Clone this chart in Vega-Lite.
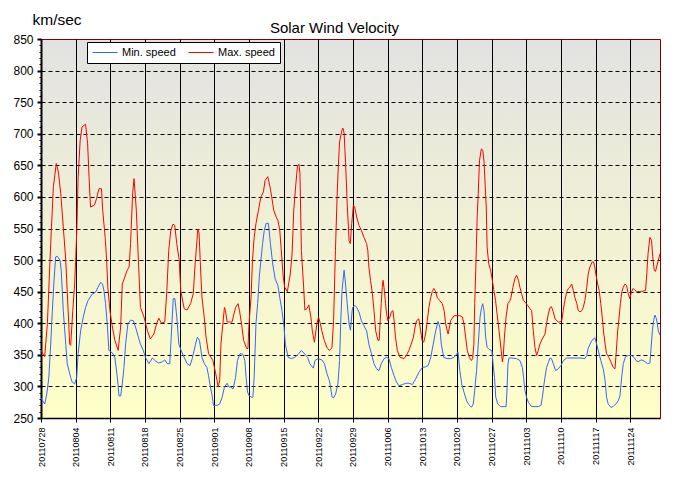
{
"$schema": "https://vega.github.io/schema/vega-lite/v6.json",
"width": 619,
"height": 379,
"autosize": {"type": "none"},
"padding": {"left": 41, "top": 39, "right": 22, "bottom": 71},
"background": "white",
"title": {"text": "Solar Wind Velocity", "anchor": "middle", "dx": -16, "offset": 0, "dy": 24, "font": "Liberation Sans", "fontSize": 15, "fontWeight": "normal", "color": "#000000"},
"datasets": {
"min": [
{"t":"2011-07-28T00:00","v":282},{"t":"2011-07-28T08:00","v":277},{"t":"2011-07-28T18:00","v":272},{"t":"2011-07-29T04:00","v":288},{"t":"2011-07-29T14:00","v":314},{"t":"2011-07-29T23:00","v":367},{"t":"2011-07-30T07:00","v":420},{"t":"2011-07-30T14:00","v":462},{"t":"2011-07-30T23:00","v":505},{"t":"2011-07-31T07:00","v":506},{"t":"2011-07-31T20:00","v":500},{"t":"2011-08-01T02:00","v":484},{"t":"2011-08-01T12:00","v":420},{"t":"2011-08-02T00:00","v":367},{"t":"2011-08-02T07:00","v":336},{"t":"2011-08-03T00:00","v":314},{"t":"2011-08-03T07:00","v":307},{"t":"2011-08-03T19:00","v":304},{"t":"2011-08-04T05:00","v":314},{"t":"2011-08-04T12:00","v":352},{"t":"2011-08-05T00:00","v":388},{"t":"2011-08-05T13:00","v":410},{"t":"2011-08-06T00:00","v":425},{"t":"2011-08-06T12:00","v":436},{"t":"2011-08-07T08:00","v":446},{"t":"2011-08-08T00:00","v":449},{"t":"2011-08-08T12:00","v":457},{"t":"2011-08-09T01:00","v":465},{"t":"2011-08-09T10:00","v":462},{"t":"2011-08-09T17:00","v":452},{"t":"2011-08-10T01:00","v":431},{"t":"2011-08-10T10:00","v":394},{"t":"2011-08-10T17:00","v":357},{"t":"2011-08-11T10:00","v":353},{"t":"2011-08-11T22:00","v":346},{"t":"2011-08-12T10:00","v":314},{"t":"2011-08-12T18:00","v":285},{"t":"2011-08-13T02:00","v":285},{"t":"2011-08-13T10:00","v":304},{"t":"2011-08-13T18:00","v":330},{"t":"2011-08-14T02:00","v":367},{"t":"2011-08-14T13:00","v":399},{"t":"2011-08-15T02:00","v":405},{"t":"2011-08-15T16:00","v":404},{"t":"2011-08-16T02:00","v":394},{"t":"2011-08-16T16:00","v":378},{"t":"2011-08-17T02:00","v":367},{"t":"2011-08-17T16:00","v":357},{"t":"2011-08-18T02:00","v":346},{"t":"2011-08-18T19:00","v":336},{"t":"2011-08-19T12:00","v":345},{"t":"2011-08-20T04:00","v":340},{"t":"2011-08-20T19:00","v":337},{"t":"2011-08-21T12:00","v":339},{"t":"2011-08-22T00:00","v":342},{"t":"2011-08-22T12:00","v":336},{"t":"2011-08-23T00:00","v":336},{"t":"2011-08-23T07:00","v":378},{"t":"2011-08-23T17:00","v":439},{"t":"2011-08-24T01:00","v":439},{"t":"2011-08-24T10:00","v":410},{"t":"2011-08-24T20:00","v":367},{"t":"2011-08-25T07:00","v":357},{"t":"2011-08-25T22:00","v":346},{"t":"2011-08-26T12:00","v":336},{"t":"2011-08-27T02:00","v":333},{"t":"2011-08-27T13:00","v":344},{"t":"2011-08-28T05:00","v":367},{"t":"2011-08-28T14:00","v":378},{"t":"2011-08-29T00:00","v":373},{"t":"2011-08-29T12:00","v":346},{"t":"2011-08-30T00:00","v":336},{"t":"2011-08-30T12:00","v":330},{"t":"2011-08-30T20:00","v":317},{"t":"2011-08-31T05:00","v":299},{"t":"2011-08-31T12:00","v":288},{"t":"2011-08-31T20:00","v":270},{"t":"2011-09-01T13:00","v":270},{"t":"2011-09-02T02:00","v":272},{"t":"2011-09-02T14:00","v":283},{"t":"2011-09-03T01:00","v":299},{"t":"2011-09-03T14:00","v":305},{"t":"2011-09-03T23:00","v":299},{"t":"2011-09-04T07:00","v":299},{"t":"2011-09-04T19:00","v":296},{"t":"2011-09-05T07:00","v":314},{"t":"2011-09-05T16:00","v":341},{"t":"2011-09-06T05:00","v":352},{"t":"2011-09-06T18:00","v":351},{"t":"2011-09-07T04:00","v":341},{"t":"2011-09-07T10:00","v":314},{"t":"2011-09-07T17:00","v":291},{"t":"2011-09-08T01:00","v":285},{"t":"2011-09-08T12:00","v":283},{"t":"2011-09-08T19:00","v":283},{"t":"2011-09-09T01:00","v":314},{"t":"2011-09-09T10:00","v":400},{"t":"2011-09-09T18:00","v":431},{"t":"2011-09-10T02:00","v":473},{"t":"2011-09-10T10:00","v":500},{"t":"2011-09-10T18:00","v":526},{"t":"2011-09-11T02:00","v":547},{"t":"2011-09-11T11:00","v":558},{"t":"2011-09-11T22:00","v":558},{"t":"2011-09-12T08:00","v":526},{"t":"2011-09-12T19:00","v":494},{"t":"2011-09-13T07:00","v":470},{"t":"2011-09-13T20:00","v":460},{"t":"2011-09-14T05:00","v":441},{"t":"2011-09-14T16:00","v":420},{"t":"2011-09-15T02:00","v":394},{"t":"2011-09-15T08:00","v":367},{"t":"2011-09-15T22:00","v":346},{"t":"2011-09-16T13:00","v":344},{"t":"2011-09-17T06:00","v":346},{"t":"2011-09-17T23:00","v":351},{"t":"2011-09-18T14:00","v":357},{"t":"2011-09-19T07:00","v":351},{"t":"2011-09-19T20:00","v":346},{"t":"2011-09-20T07:00","v":336},{"t":"2011-09-21T00:00","v":329},{"t":"2011-09-21T08:00","v":341},{"t":"2011-09-21T22:00","v":344},{"t":"2011-09-22T17:00","v":342},{"t":"2011-09-23T06:00","v":336},{"t":"2011-09-23T18:00","v":320},{"t":"2011-09-24T06:00","v":309},{"t":"2011-09-24T19:00","v":283},{"t":"2011-09-25T02:00","v":282},{"t":"2011-09-25T12:00","v":288},{"t":"2011-09-25T23:00","v":304},{"t":"2011-09-26T07:00","v":341},{"t":"2011-09-26T13:00","v":405},{"t":"2011-09-26T19:00","v":452},{"t":"2011-09-27T05:00","v":484},{"t":"2011-09-27T12:00","v":462},{"t":"2011-09-27T20:00","v":431},{"t":"2011-09-28T05:00","v":399},{"t":"2011-09-28T12:00","v":389},{"t":"2011-09-28T20:00","v":420},{"t":"2011-09-29T00:00","v":426},{"t":"2011-09-29T10:00","v":428},{"t":"2011-09-29T18:00","v":425},{"t":"2011-09-30T05:00","v":418},{"t":"2011-09-30T17:00","v":404},{"t":"2011-10-01T05:00","v":396},{"t":"2011-10-01T18:00","v":388},{"t":"2011-10-02T05:00","v":367},{"t":"2011-10-02T17:00","v":352},{"t":"2011-10-03T06:00","v":336},{"t":"2011-10-03T18:00","v":328},{"t":"2011-10-04T06:00","v":325},{"t":"2011-10-04T17:00","v":336},{"t":"2011-10-05T07:00","v":344},{"t":"2011-10-05T19:00","v":346},{"t":"2011-10-06T06:00","v":344},{"t":"2011-10-06T18:00","v":330},{"t":"2011-10-07T07:00","v":317},{"t":"2011-10-07T19:00","v":307},{"t":"2011-10-08T07:00","v":301},{"t":"2011-10-09T00:00","v":303},{"t":"2011-10-09T16:00","v":305},{"t":"2011-10-10T07:00","v":305},{"t":"2011-10-11T00:00","v":303},{"t":"2011-10-11T16:00","v":312},{"t":"2011-10-12T07:00","v":322},{"t":"2011-10-13T00:00","v":330},{"t":"2011-10-13T16:00","v":331},{"t":"2011-10-14T04:00","v":333},{"t":"2011-10-14T17:00","v":346},{"t":"2011-10-15T05:00","v":367},{"t":"2011-10-15T17:00","v":388},{"t":"2011-10-16T04:00","v":403},{"t":"2011-10-16T13:00","v":394},{"t":"2011-10-16T20:00","v":367},{"t":"2011-10-17T08:00","v":346},{"t":"2011-10-18T00:00","v":344},{"t":"2011-10-18T17:00","v":344},{"t":"2011-10-19T10:00","v":346},{"t":"2011-10-19T22:00","v":351},{"t":"2011-10-20T05:00","v":354},{"t":"2011-10-20T14:00","v":325},{"t":"2011-10-20T23:00","v":304},{"t":"2011-10-21T10:00","v":291},{"t":"2011-10-21T23:00","v":277},{"t":"2011-10-22T10:00","v":271},{"t":"2011-10-22T22:00","v":267},{"t":"2011-10-23T07:00","v":272},{"t":"2011-10-23T14:00","v":294},{"t":"2011-10-23T23:00","v":325},{"t":"2011-10-24T07:00","v":367},{"t":"2011-10-24T16:00","v":410},{"t":"2011-10-24T23:00","v":425},{"t":"2011-10-25T05:00","v":431},{"t":"2011-10-25T11:00","v":420},{"t":"2011-10-25T19:00","v":378},{"t":"2011-10-26T02:00","v":362},{"t":"2011-10-26T14:00","v":358},{"t":"2011-10-27T01:00","v":357},{"t":"2011-10-27T07:00","v":336},{"t":"2011-10-27T14:00","v":314},{"t":"2011-10-27T20:00","v":283},{"t":"2011-10-28T06:00","v":272},{"t":"2011-10-28T19:00","v":268},{"t":"2011-10-29T12:00","v":268},{"t":"2011-10-29T22:00","v":268},{"t":"2011-10-30T02:00","v":290},{"t":"2011-10-30T07:00","v":335},{"t":"2011-10-30T12:00","v":345},{"t":"2011-10-31T00:00","v":345},{"t":"2011-11-01T01:00","v":344},{"t":"2011-11-01T17:00","v":341},{"t":"2011-11-02T05:00","v":330},{"t":"2011-11-02T11:00","v":314},{"t":"2011-11-02T17:00","v":294},{"t":"2011-11-03T01:00","v":283},{"t":"2011-11-03T10:00","v":275},{"t":"2011-11-04T02:00","v":268},{"t":"2011-11-05T10:00","v":268},{"t":"2011-11-05T23:00","v":270},{"t":"2011-11-06T06:00","v":283},{"t":"2011-11-06T14:00","v":304},{"t":"2011-11-07T02:00","v":330},{"t":"2011-11-07T11:00","v":338},{"t":"2011-11-07T19:00","v":345},{"t":"2011-11-08T02:00","v":344},{"t":"2011-11-08T11:00","v":336},{"t":"2011-11-08T22:00","v":325},{"t":"2011-11-09T11:00","v":328},{"t":"2011-11-10T00:00","v":333},{"t":"2011-11-10T12:00","v":341},{"t":"2011-11-11T04:00","v":345},{"t":"2011-11-13T20:00","v":345},{"t":"2011-11-14T20:00","v":344},{"t":"2011-11-15T05:00","v":349},{"t":"2011-11-15T12:00","v":360},{"t":"2011-11-16T01:00","v":370},{"t":"2011-11-16T12:00","v":375},{"t":"2011-11-16T20:00","v":377},{"t":"2011-11-17T05:00","v":367},{"t":"2011-11-17T13:00","v":357},{"t":"2011-11-18T01:00","v":341},{"t":"2011-11-18T13:00","v":328},{"t":"2011-11-18T22:00","v":309},{"t":"2011-11-19T05:00","v":283},{"t":"2011-11-19T13:00","v":272},{"t":"2011-11-20T02:00","v":267},{"t":"2011-11-20T13:00","v":268},{"t":"2011-11-21T01:00","v":272},{"t":"2011-11-21T13:00","v":277},{"t":"2011-11-21T22:00","v":285},{"t":"2011-11-22T06:00","v":314},{"t":"2011-11-22T14:00","v":336},{"t":"2011-11-23T01:00","v":347},{"t":"2011-11-23T14:00","v":349},{"t":"2011-11-24T06:00","v":349},{"t":"2011-11-24T18:00","v":346},{"t":"2011-11-25T07:00","v":340},{"t":"2011-11-25T14:00","v":339},{"t":"2011-11-26T04:00","v":342},{"t":"2011-11-26T14:00","v":341},{"t":"2011-11-26T23:00","v":339},{"t":"2011-11-27T12:00","v":336},{"t":"2011-11-27T23:00","v":337},{"t":"2011-11-28T04:00","v":357},{"t":"2011-11-28T11:00","v":388},{"t":"2011-11-28T17:00","v":404},{"t":"2011-11-28T23:00","v":413},{"t":"2011-11-29T07:00","v":407},{"t":"2011-11-29T16:00","v":388},{"t":"2011-11-30T00:00","v":381}
],
"max": [
{"t":"2011-07-28T00:00","v":357},{"t":"2011-07-28T18:00","v":347},{"t":"2011-07-29T07:00","v":400},{"t":"2011-07-29T23:00","v":526},{"t":"2011-07-30T12:00","v":616},{"t":"2011-07-31T02:00","v":653},{"t":"2011-07-31T12:00","v":640},{"t":"2011-08-01T00:00","v":605},{"t":"2011-08-02T00:00","v":500},{"t":"2011-08-02T19:00","v":367},{"t":"2011-08-03T00:00","v":365},{"t":"2011-08-03T10:00","v":420},{"t":"2011-08-03T19:00","v":462},{"t":"2011-08-04T00:00","v":500},{"t":"2011-08-04T06:00","v":552},{"t":"2011-08-04T12:00","v":631},{"t":"2011-08-04T22:00","v":690},{"t":"2011-08-05T07:00","v":711},{"t":"2011-08-06T00:00","v":715},{"t":"2011-08-06T10:00","v":684},{"t":"2011-08-06T17:00","v":631},{"t":"2011-08-07T00:00","v":584},{"t":"2011-08-07T19:00","v":587},{"t":"2011-08-08T05:00","v":597},{"t":"2011-08-08T17:00","v":613},{"t":"2011-08-09T05:00","v":613},{"t":"2011-08-09T11:00","v":579},{"t":"2011-08-09T23:00","v":536},{"t":"2011-08-10T06:00","v":500},{"t":"2011-08-10T12:00","v":457},{"t":"2011-08-10T22:00","v":420},{"t":"2011-08-11T10:00","v":394},{"t":"2011-08-11T22:00","v":373},{"t":"2011-08-12T14:00","v":357},{"t":"2011-08-13T02:00","v":394},{"t":"2011-08-13T10:00","v":462},{"t":"2011-08-13T22:00","v":473},{"t":"2011-08-14T10:00","v":484},{"t":"2011-08-14T19:00","v":489},{"t":"2011-08-15T02:00","v":526},{"t":"2011-08-15T12:00","v":605},{"t":"2011-08-15T19:00","v":629},{"t":"2011-08-16T06:00","v":579},{"t":"2011-08-16T16:00","v":500},{"t":"2011-08-17T02:00","v":425},{"t":"2011-08-17T19:00","v":410},{"t":"2011-08-18T12:00","v":388},{"t":"2011-08-19T02:00","v":375},{"t":"2011-08-19T19:00","v":383},{"t":"2011-08-20T08:00","v":399},{"t":"2011-08-20T19:00","v":408},{"t":"2011-08-21T07:00","v":400},{"t":"2011-08-22T00:00","v":402},{"t":"2011-08-22T10:00","v":452},{"t":"2011-08-22T19:00","v":515},{"t":"2011-08-23T05:00","v":547},{"t":"2011-08-23T16:00","v":557},{"t":"2011-08-24T00:00","v":555},{"t":"2011-08-24T10:00","v":526},{"t":"2011-08-24T22:00","v":500},{"t":"2011-08-25T05:00","v":452},{"t":"2011-08-25T22:00","v":423},{"t":"2011-08-26T12:00","v":421},{"t":"2011-08-27T05:00","v":431},{"t":"2011-08-27T18:00","v":447},{"t":"2011-08-28T02:00","v":489},{"t":"2011-08-28T16:00","v":549},{"t":"2011-08-28T22:00","v":543},{"t":"2011-08-29T05:00","v":489},{"t":"2011-08-29T12:00","v":441},{"t":"2011-08-29T23:00","v":410},{"t":"2011-08-30T08:00","v":378},{"t":"2011-08-30T20:00","v":352},{"t":"2011-08-31T17:00","v":341},{"t":"2011-09-01T07:00","v":320},{"t":"2011-09-01T19:00","v":299},{"t":"2011-09-02T02:00","v":309},{"t":"2011-09-02T08:00","v":367},{"t":"2011-09-03T01:00","v":425},{"t":"2011-09-03T06:00","v":420},{"t":"2011-09-03T14:00","v":402},{"t":"2011-09-04T14:00","v":402},{"t":"2011-09-05T07:00","v":425},{"t":"2011-09-05T19:00","v":431},{"t":"2011-09-06T02:00","v":420},{"t":"2011-09-06T12:00","v":399},{"t":"2011-09-06T22:00","v":373},{"t":"2011-09-07T13:00","v":360},{"t":"2011-09-07T19:00","v":360},{"t":"2011-09-08T00:00","v":399},{"t":"2011-09-08T10:00","v":441},{"t":"2011-09-08T17:00","v":500},{"t":"2011-09-09T01:00","v":536},{"t":"2011-09-09T10:00","v":558},{"t":"2011-09-09T22:00","v":579},{"t":"2011-09-10T10:00","v":600},{"t":"2011-09-10T22:00","v":608},{"t":"2011-09-11T06:00","v":626},{"t":"2011-09-11T19:00","v":632},{"t":"2011-09-12T06:00","v":616},{"t":"2011-09-12T14:00","v":600},{"t":"2011-09-13T00:00","v":579},{"t":"2011-09-13T12:00","v":568},{"t":"2011-09-13T20:00","v":563},{"t":"2011-09-14T05:00","v":548},{"t":"2011-09-14T16:00","v":500},{"t":"2011-09-14T22:00","v":473},{"t":"2011-09-15T05:00","v":457},{"t":"2011-09-15T18:00","v":450},{"t":"2011-09-16T08:00","v":478},{"t":"2011-09-16T17:00","v":510},{"t":"2011-09-17T01:00","v":579},{"t":"2011-09-17T10:00","v":616},{"t":"2011-09-17T19:00","v":649},{"t":"2011-09-18T02:00","v":652},{"t":"2011-09-18T07:00","v":637},{"t":"2011-09-18T14:00","v":515},{"t":"2011-09-19T00:00","v":462},{"t":"2011-09-19T07:00","v":421},{"t":"2011-09-19T17:00","v":423},{"t":"2011-09-20T02:00","v":429},{"t":"2011-09-20T12:00","v":410},{"t":"2011-09-20T19:00","v":388},{"t":"2011-09-21T05:00","v":370},{"t":"2011-09-21T17:00","v":399},{"t":"2011-09-22T01:00","v":410},{"t":"2011-09-22T10:00","v":399},{"t":"2011-09-22T17:00","v":388},{"t":"2011-09-23T05:00","v":373},{"t":"2011-09-23T17:00","v":362},{"t":"2011-09-24T05:00","v":357},{"t":"2011-09-24T18:00","v":361},{"t":"2011-09-25T02:00","v":404},{"t":"2011-09-25T11:00","v":515},{"t":"2011-09-25T19:00","v":600},{"t":"2011-09-26T01:00","v":649},{"t":"2011-09-26T07:00","v":687},{"t":"2011-09-26T17:00","v":704},{"t":"2011-09-26T23:00","v":709},{"t":"2011-09-27T05:00","v":701},{"t":"2011-09-27T12:00","v":654},{"t":"2011-09-27T20:00","v":590},{"t":"2011-09-28T05:00","v":531},{"t":"2011-09-28T11:00","v":526},{"t":"2011-09-28T18:00","v":558},{"t":"2011-09-29T02:00","v":587},{"t":"2011-09-29T08:00","v":584},{"t":"2011-09-29T18:00","v":568},{"t":"2011-09-30T05:00","v":555},{"t":"2011-09-30T17:00","v":547},{"t":"2011-10-01T05:00","v":536},{"t":"2011-10-01T18:00","v":526},{"t":"2011-10-02T00:00","v":515},{"t":"2011-10-02T05:00","v":489},{"t":"2011-10-02T13:00","v":468},{"t":"2011-10-02T22:00","v":447},{"t":"2011-10-03T06:00","v":420},{"t":"2011-10-03T14:00","v":388},{"t":"2011-10-04T01:00","v":373},{"t":"2011-10-04T07:00","v":373},{"t":"2011-10-04T11:00","v":399},{"t":"2011-10-04T17:00","v":431},{"t":"2011-10-04T22:00","v":457},{"t":"2011-10-05T02:00","v":468},{"t":"2011-10-05T08:00","v":452},{"t":"2011-10-05T14:00","v":431},{"t":"2011-10-05T19:00","v":415},{"t":"2011-10-06T01:00","v":404},{"t":"2011-10-06T11:00","v":410},{"t":"2011-10-06T18:00","v":418},{"t":"2011-10-07T02:00","v":420},{"t":"2011-10-07T07:00","v":404},{"t":"2011-10-07T14:00","v":378},{"t":"2011-10-07T23:00","v":357},{"t":"2011-10-08T12:00","v":346},{"t":"2011-10-09T07:00","v":344},{"t":"2011-10-09T19:00","v":349},{"t":"2011-10-10T07:00","v":357},{"t":"2011-10-10T18:00","v":367},{"t":"2011-10-11T05:00","v":378},{"t":"2011-10-11T13:00","v":394},{"t":"2011-10-11T20:00","v":404},{"t":"2011-10-12T07:00","v":407},{"t":"2011-10-12T16:00","v":388},{"t":"2011-10-12T23:00","v":373},{"t":"2011-10-13T07:00","v":370},{"t":"2011-10-13T16:00","v":383},{"t":"2011-10-14T00:00","v":404},{"t":"2011-10-14T08:00","v":425},{"t":"2011-10-14T17:00","v":441},{"t":"2011-10-15T00:00","v":450},{"t":"2011-10-15T08:00","v":455},{"t":"2011-10-15T17:00","v":450},{"t":"2011-10-16T00:00","v":441},{"t":"2011-10-16T12:00","v":436},{"t":"2011-10-17T01:00","v":431},{"t":"2011-10-17T10:00","v":420},{"t":"2011-10-17T17:00","v":399},{"t":"2011-10-18T05:00","v":383},{"t":"2011-10-18T12:00","v":394},{"t":"2011-10-18T17:00","v":404},{"t":"2011-10-19T10:00","v":412},{"t":"2011-10-20T14:00","v":412},{"t":"2011-10-21T02:00","v":410},{"t":"2011-10-21T10:00","v":399},{"t":"2011-10-21T18:00","v":378},{"t":"2011-10-22T02:00","v":357},{"t":"2011-10-22T12:00","v":346},{"t":"2011-10-22T22:00","v":341},{"t":"2011-10-23T04:00","v":344},{"t":"2011-10-23T10:00","v":367},{"t":"2011-10-23T14:00","v":431},{"t":"2011-10-23T19:00","v":484},{"t":"2011-10-24T02:00","v":568},{"t":"2011-10-24T07:00","v":605},{"t":"2011-10-24T13:00","v":657},{"t":"2011-10-24T22:00","v":676},{"t":"2011-10-25T05:00","v":674},{"t":"2011-10-25T11:00","v":657},{"t":"2011-10-25T17:00","v":616},{"t":"2011-10-25T22:00","v":584},{"t":"2011-10-26T02:00","v":521},{"t":"2011-10-26T10:00","v":494},{"t":"2011-10-26T19:00","v":484},{"t":"2011-10-27T02:00","v":471},{"t":"2011-10-27T11:00","v":452},{"t":"2011-10-27T19:00","v":436},{"t":"2011-10-28T04:00","v":410},{"t":"2011-10-28T12:00","v":388},{"t":"2011-10-28T19:00","v":367},{"t":"2011-10-29T04:00","v":339},{"t":"2011-10-29T08:00","v":346},{"t":"2011-10-29T14:00","v":378},{"t":"2011-10-29T22:00","v":410},{"t":"2011-10-30T07:00","v":431},{"t":"2011-10-30T17:00","v":436},{"t":"2011-10-30T22:00","v":441},{"t":"2011-10-31T07:00","v":457},{"t":"2011-10-31T17:00","v":471},{"t":"2011-11-01T01:00","v":476},{"t":"2011-11-01T10:00","v":468},{"t":"2011-11-01T17:00","v":457},{"t":"2011-11-02T01:00","v":447},{"t":"2011-11-02T10:00","v":436},{"t":"2011-11-02T22:00","v":432},{"t":"2011-11-03T07:00","v":428},{"t":"2011-11-03T18:00","v":423},{"t":"2011-11-04T02:00","v":420},{"t":"2011-11-04T10:00","v":388},{"t":"2011-11-04T18:00","v":362},{"t":"2011-11-05T02:00","v":349},{"t":"2011-11-05T10:00","v":357},{"t":"2011-11-05T18:00","v":367},{"t":"2011-11-06T05:00","v":375},{"t":"2011-11-06T19:00","v":383},{"t":"2011-11-07T02:00","v":399},{"t":"2011-11-07T11:00","v":415},{"t":"2011-11-07T19:00","v":425},{"t":"2011-11-08T02:00","v":426},{"t":"2011-11-08T11:00","v":418},{"t":"2011-11-08T19:00","v":407},{"t":"2011-11-09T11:00","v":402},{"t":"2011-11-09T19:00","v":402},{"t":"2011-11-10T04:00","v":404},{"t":"2011-11-10T11:00","v":420},{"t":"2011-11-10T19:00","v":436},{"t":"2011-11-11T04:00","v":450},{"t":"2011-11-11T12:00","v":455},{"t":"2011-11-11T19:00","v":457},{"t":"2011-11-12T04:00","v":462},{"t":"2011-11-12T12:00","v":452},{"t":"2011-11-12T19:00","v":441},{"t":"2011-11-13T05:00","v":431},{"t":"2011-11-13T12:00","v":420},{"t":"2011-11-13T20:00","v":418},{"t":"2011-11-14T05:00","v":420},{"t":"2011-11-14T12:00","v":425},{"t":"2011-11-14T20:00","v":436},{"t":"2011-11-15T05:00","v":457},{"t":"2011-11-15T12:00","v":478},{"t":"2011-11-15T20:00","v":489},{"t":"2011-11-16T07:00","v":497},{"t":"2011-11-16T14:00","v":497},{"t":"2011-11-16T20:00","v":489},{"t":"2011-11-17T01:00","v":478},{"t":"2011-11-17T10:00","v":462},{"t":"2011-11-17T17:00","v":452},{"t":"2011-11-18T01:00","v":431},{"t":"2011-11-18T08:00","v":410},{"t":"2011-11-18T14:00","v":388},{"t":"2011-11-18T22:00","v":367},{"t":"2011-11-19T05:00","v":352},{"t":"2011-11-19T16:00","v":346},{"t":"2011-11-20T02:00","v":339},{"t":"2011-11-20T13:00","v":330},{"t":"2011-11-20T22:00","v":328},{"t":"2011-11-21T02:00","v":346},{"t":"2011-11-21T11:00","v":388},{"t":"2011-11-21T18:00","v":410},{"t":"2011-11-22T00:00","v":431},{"t":"2011-11-22T07:00","v":450},{"t":"2011-11-22T14:00","v":457},{"t":"2011-11-22T22:00","v":462},{"t":"2011-11-23T06:00","v":460},{"t":"2011-11-23T14:00","v":447},{"t":"2011-11-23T22:00","v":439},{"t":"2011-11-24T06:00","v":450},{"t":"2011-11-24T14:00","v":455},{"t":"2011-11-24T23:00","v":452},{"t":"2011-11-25T07:00","v":450},{"t":"2011-11-26T07:00","v":450},{"t":"2011-11-27T02:00","v":452},{"t":"2011-11-27T08:00","v":478},{"t":"2011-11-27T14:00","v":510},{"t":"2011-11-27T23:00","v":536},{"t":"2011-11-28T07:00","v":531},{"t":"2011-11-28T13:00","v":505},{"t":"2011-11-28T20:00","v":484},{"t":"2011-11-29T02:00","v":482},{"t":"2011-11-29T10:00","v":492},{"t":"2011-11-29T16:00","v":500},{"t":"2011-11-30T00:00","v":510}
]
},
"encoding": {
"x": {"field": "t", "type": "temporal",
 "scale": {"domain": [{"year": 2011, "month": 7, "date": 28}, {"year": 2011, "month": 11, "date": 30}]},
 "axis": {"title": null, "format": "%Y%m%d", "labelAngle": -90, "labelFont": "Liberation Sans", "labelFontSize": 9, "labelColor": "#000000", "labelPadding": 5, "labelOverlap": false, "labelFlush": false, "labelBound": false,
  "values": [{"year":2011,"month":7,"date":28},{"year":2011,"month":8,"date":4},{"year":2011,"month":8,"date":11},{"year":2011,"month":8,"date":18},{"year":2011,"month":8,"date":25},{"year":2011,"month":9,"date":1},{"year":2011,"month":9,"date":8},{"year":2011,"month":9,"date":15},{"year":2011,"month":9,"date":22},{"year":2011,"month":9,"date":29},{"year":2011,"month":10,"date":6},{"year":2011,"month":10,"date":13},{"year":2011,"month":10,"date":20},{"year":2011,"month":10,"date":27},{"year":2011,"month":11,"date":3},{"year":2011,"month":11,"date":10},{"year":2011,"month":11,"date":17},{"year":2011,"month":11,"date":24}],
  "tickSize": 4, "tickColor": "#000000", "tickWidth": 1, "domainColor": "#000000", "domainWidth": 1.5,
  "grid": true, "gridColor": "#000000", "gridWidth": 1, "gridOpacity": 1}},
"y": {"field": "v", "type": "quantitative",
 "scale": {"domain": [250, 850], "nice": false, "zero": false},
 "axis": {"values": [250,260,270,280,290,300,310,320,330,340,350,360,370,380,390,400,410,420,430,440,450,460,470,480,490,500,510,520,530,540,550,560,570,580,590,600,610,620,630,640,650,660,670,680,690,700,710,720,730,740,750,760,770,780,790,800,810,820,830,840,850],
  "labelExpr": "datum.value % 50 === 0 ? datum.label : ''",
  "labelOverlap": false, "labelBound": false, "labelFlush": false,
  "labelFont": "Liberation Sans", "labelFontSize": 12, "labelColor": "#000000", "labelPadding": 4,
  "grid": true, "gridColor": "#000000", "gridDash": [4, 3], "gridWidth": 1,
  "gridOpacity": {"condition": {"test": "datum.value % 50 === 0 && datum.value > 250 && datum.value < 850", "value": 1}, "value": 0},
  "tickColor": "#000000",
  "tickSize": {"condition": {"test": "datum.value % 50 === 0", "value": 4}, "value": 2},
  "tickWidth": {"condition": {"test": "datum.value % 50 === 0", "value": 2}, "value": 1},
  "domainColor": "#000000", "domainWidth": 2,
  "title": "km/sec", "titleAngle": 0, "titleX": -9, "titleY": -15, "titleAlign": "left", "titleBaseline": "alphabetic",
  "titleFont": "Liberation Sans", "titleFontSize": 15.5, "titleFontWeight": "normal", "titleColor": "#000000"}}
},
"layer": [
{"data": {"name": "min"}, "mark": {"type": "line", "strokeWidth": 1, "clip": true},
 "encoding": {"color": {"datum": "Min. speed", "type": "nominal",
  "scale": {"domain": ["Min. speed", "Max. speed"], "range": ["#3366ff", "#ff0000"]},
  "legend": {"title": null, "orient": "none", "legendX": 46, "legendY": 3, "direction": "horizontal",
   "symbolType": "stroke", "symbolSize": 625, "symbolStrokeWidth": 1, "clipHeight": 11,
   "labelFont": "Liberation Sans", "labelFontSize": 11, "labelColor": "#000000", "labelOffset": 4,
   "columnPadding": 12, "padding": 5, "fillColor": "#ffffff", "strokeColor": "#000000"}}}},
{"data": {"name": "max"}, "mark": {"type": "line", "strokeWidth": 1, "clip": true},
 "encoding": {"color": {"datum": "Max. speed", "type": "nominal"}}}
],
"config": {
"view": {"stroke": "#800000", "strokeWidth": 1,
 "fill": {"gradient": "linear", "x1": 0, "y1": 0, "x2": 0, "y2": 1, "stops": [{"offset": 0, "color": "#e2e2e2"}, {"offset": 1, "color": "#ffffc8"}]}}
}
}
